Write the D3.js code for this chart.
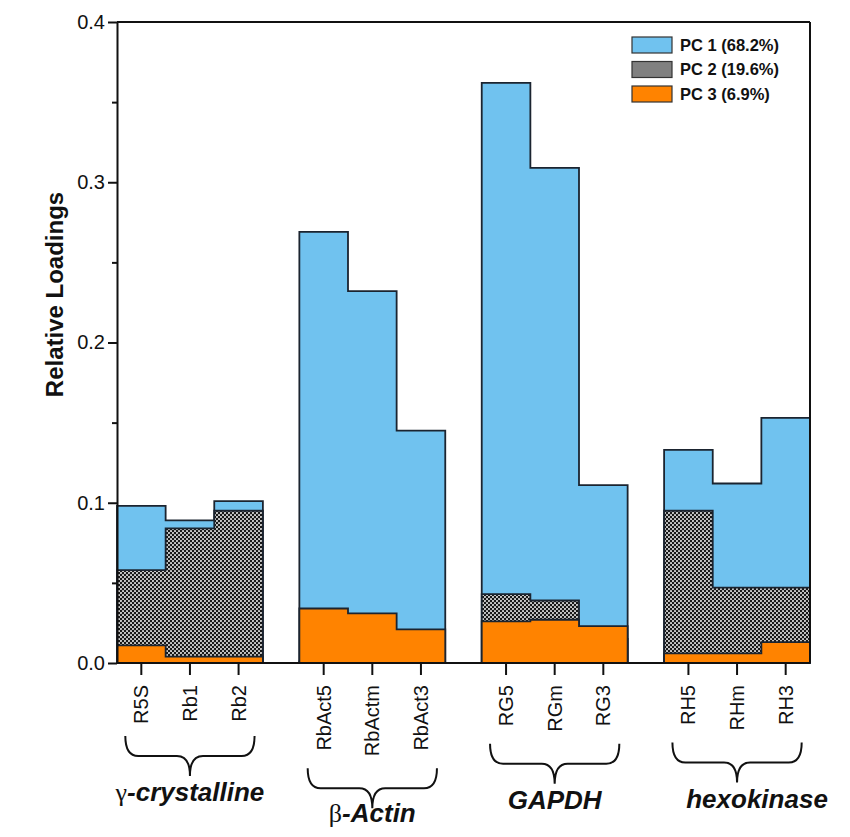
<!DOCTYPE html>
<html>
<head>
<meta charset="utf-8">
<script src="https://cdn.jsdelivr.net/npm/d3@7"></script>
<style>
  body { margin: 0; background: #fff; }
  text { font-family: Arial, "Liberation Sans", sans-serif; fill: #111; }
</style>
</head>
<body>
<svg id="chart" width="850" height="837"></svg>
<script>
const groupNames = ["γ-crystalline", "β-Actin", "GAPDH", "hexokinase"]
const samples = ["R5S", "Rb1", "Rb2", "RbAct5", "RbActm", "RbAct3", "RG5", "RGm", "RG3", "RH5", "RHm", "RH3"]
const sampleGroup = [0, 0, 0, 1, 1, 1, 2, 2, 2, 3, 3, 3]
// loadings, each column drawn from zero (PC1 behind, PC3 in front)
const pc1 = [0.098, 0.089, 0.101, 0.269, 0.232, 0.145, 0.362, 0.309, 0.111, 0.133, 0.112, 0.153]
const pc2 = [0.058, 0.084, 0.095, 0.001, 0, 0, 0.043, 0.039, 0.015, 0.095, 0.047, 0.047]
const pc3 = [0.011, 0.004, 0.004, 0.034, 0.031, 0.021, 0.026, 0.027, 0.023, 0.006, 0.006, 0.013]
const seriesNames = ["PC 1 (68.2%)", "PC 2 (19.6%)", "PC 3 (6.9%)"]
const yTicks = [0, 0.1, 0.2, 0.3, 0.4]
const yMinorTicks = [0.05, 0.15, 0.25, 0.35]

const margin = {top: 22, right: 40, bottom: 174, left: 117}
const W = 850, H = 837
const width = W - margin.left - margin.right
const height = H - margin.top - margin.bottom
const blue = "#70c2ef", orange = "#ff8300", outline = "#1b2430"

const svg = d3.select("#chart")

const defs = svg.append("defs")
const pat = defs.append("pattern").attr("id", "dots")
  .attr("width", 4).attr("height", 4).attr("patternUnits", "userSpaceOnUse")
pat.append("rect").attr("width", 4).attr("height", 4).attr("fill", "#181818")
pat.append("circle").attr("cx", 1).attr("cy", 1).attr("r", 1.05).attr("fill", "#d6d6d6")
pat.append("circle").attr("cx", 3).attr("cy", 3).attr("r", 1.05).attr("fill", "#d6d6d6")

const seriesVals = [pc1, pc2, pc3]
const seriesFill = [blue, "url(#dots)", orange]
const legendFill = [blue, "#808080", orange]

const xGroup = d3.scaleBand()
  .domain(groupNames)
  .range([margin.left, margin.left + width])
  .paddingInner(0.2)
  .paddingOuter(0)

const y = d3.scaleLinear()
  .domain([0, 0.4])
  .range([margin.top + height, margin.top])

const line = d3.line()

groupNames.forEach((gName, gi) => {
  let idx = samples.map((s, i) => i).filter(i => sampleGroup[i] === gi)
  let x0 = xGroup(gName)
  let bw = xGroup.bandwidth()
  let inner = d3.scaleBand()
    .domain(idx.map(i => samples[i]))
    .range([x0, x0 + bw])
    .padding(0)

  seriesVals.forEach((vals, si) => {
    let pts = [[x0, y(0)]]
    idx.forEach(i => {
      let xs = inner(samples[i])
      pts.push([xs, y(vals[i])], [xs + inner.bandwidth(), y(vals[i])])
    })
    pts.push([x0 + bw, y(0)])
    svg.append("path")
      .attr("d", line(pts) + "Z")
      .attr("fill", seriesFill[si])
      .attr("stroke", outline)
      .attr("stroke-width", 1.8)
      .attr("stroke-linejoin", "miter")
  })

  let ax = svg.append("g")
    .attr("transform", `translate(0,${y(0)})`)
    .call(d3.axisBottom(inner).tickSize(12).tickSizeOuter(0))
  ax.select(".domain").remove()
  ax.selectAll("line").attr("stroke", "#111").attr("stroke-width", 2)
  ax.selectAll("text")
    .attr("transform", "rotate(-90)")
    .attr("text-anchor", "end")
    .attr("x", -22)
    .attr("y", 0)
    .attr("dy", "0.35em")
    .style("font-size", "20px")
    .style("font-family", "Arial, 'Liberation Sans', sans-serif")
    .attr("fill", "#111")

  let maxLen = d3.max(ax.selectAll("text").nodes(), n => n.getComputedTextLength())
  let yt = y(0) + 22 + maxLen + 12
  let x1 = inner(samples[idx[0]]) + inner.bandwidth() / 2 - 16
  let x2 = inner(samples[idx[idx.length - 1]]) + inner.bandwidth() / 2 + 16
  let xm = (x1 + x2) / 2
  let ym = yt + 20, yb = ym + 20, r = 13
  svg.append("path")
    .attr("d", `M${x1},${yt} Q${x1},${ym} ${x1 + r},${ym} L${xm - r},${ym} Q${xm},${ym} ${xm},${yb} Q${xm},${ym} ${xm + r},${ym} L${x2 - r},${ym} Q${x2},${ym} ${x2},${yt}`)
    .attr("fill", "none")
    .attr("stroke", "#111")
    .attr("stroke-width", 2)

  // the last group label sits a little right of its brace in the original
  let label = svg.append("text")
    .attr("x", xm + (gi === groupNames.length - 1 ? 20 : 0))
    .attr("y", Math.min(yb + 25, 822))
    .attr("text-anchor", "middle")
    .style("font-size", "26px")
  let greek = /^[α-ω]/.test(gName)
  if (greek) {
    label.append("tspan").text(gName[0])
      .style("font-family", "'Liberation Serif', 'DejaVu Serif', serif")
  }
  label.append("tspan").text(greek ? gName.slice(1) : gName)
    .style("font-weight", "bold").style("font-style", "italic")
})

// y axis with major and minor ticks
let yAx = svg.append("g")
  .attr("transform", `translate(${margin.left},0)`)
  .call(d3.axisLeft(y).tickValues(yTicks).tickSize(9).tickSizeOuter(0).tickPadding(3).tickFormat(d3.format(".1f")))
yAx.selectAll("text").style("font-size", "20px")
yAx.selectAll("line, path").attr("stroke", "#111").attr("stroke-width", 2)

let yMinor = svg.append("g")
  .attr("transform", `translate(${margin.left},0)`)
  .call(d3.axisLeft(y).tickValues(yMinorTicks).tickSize(5).tickFormat(""))
yMinor.select(".domain").remove()
yMinor.selectAll("line").attr("stroke", "#111").attr("stroke-width", 2)

// frame: baseline, top and right
svg.append("line")
  .attr("x1", margin.left).attr("x2", margin.left + width)
  .attr("y1", y(0)).attr("y2", y(0))
  .attr("stroke", "#111").attr("stroke-width", 2)
svg.append("line")
  .attr("x1", margin.left).attr("x2", margin.left + width)
  .attr("y1", y(0.4)).attr("y2", y(0.4))
  .attr("stroke", "#111").attr("stroke-width", 2)
svg.append("line")
  .attr("x1", margin.left + width).attr("x2", margin.left + width)
  .attr("y1", y(0.4)).attr("y2", y(0))
  .attr("stroke", "#111").attr("stroke-width", 2)

svg.append("text")
  .attr("transform", `translate(63,${y(0.2) - 48}) rotate(-90)`)
  .attr("text-anchor", "middle")
  .style("font-size", "24px")
  .style("font-weight", "bold")
  .text("Relative Loadings")

// legend
let legend = svg.append("g").attr("transform", "translate(632,37)")
seriesNames.forEach((name, i) => {
  let row = legend.append("g").attr("transform", `translate(0,${i * 24.5})`)
  row.append("rect")
    .attr("width", 40).attr("height", 16)
    .attr("fill", legendFill[i])
    .attr("stroke", "#333").attr("stroke-width", 1.2)
  row.append("text")
    .attr("x", 48).attr("y", 8).attr("dy", "0.35em")
    .style("font-size", "16.5px").style("font-weight", "bold")
    .text(name)
})
</script>
</body>
</html>
